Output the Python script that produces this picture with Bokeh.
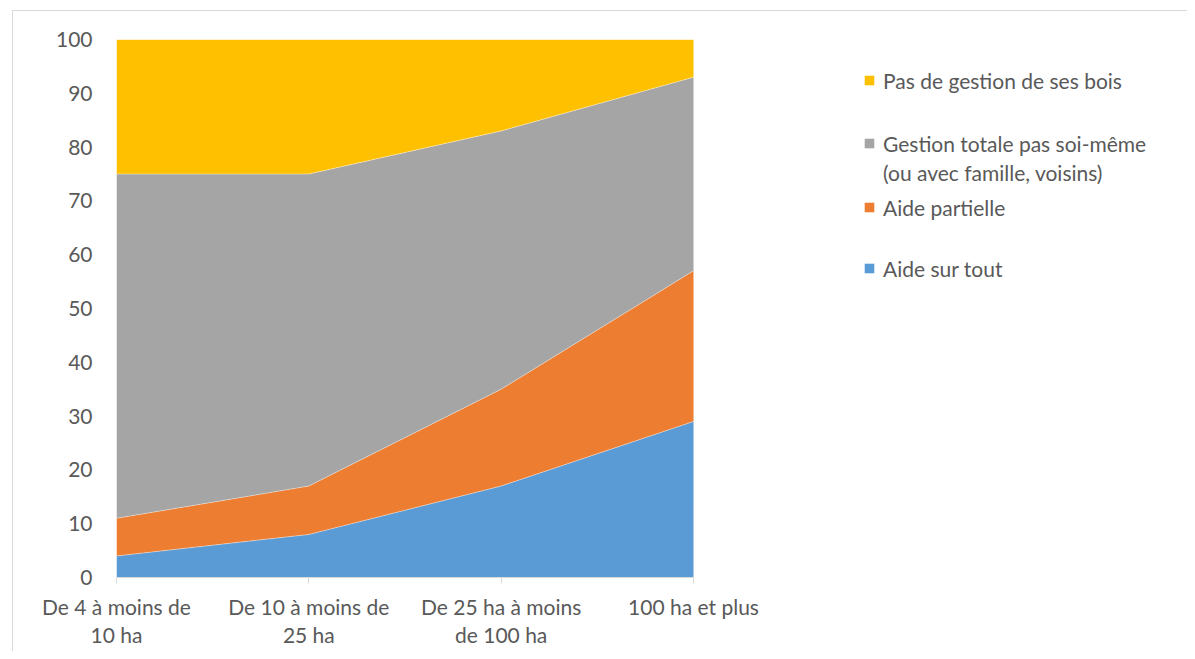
from bokeh.plotting import figure
from bokeh.models import ColumnDataSource, Legend, LegendItem, FixedTicker, Range1d
from bokeh.embed import file_html
from bokeh.resources import INLINE

categories = ["De 4 à moins de\n10 ha", "De 10 à moins de\n25 ha", "De 25 ha à moins\nde 100 ha", "100 ha et plus"]
aide_sur_tout = [4, 8, 17, 29]
aide_partielle = [7, 9, 18, 28]
gestion_totale = [64, 58, 48, 36]
pas_de_gestion = [25, 25, 17, 7]

series_names = ["Aide sur tout", "Aide partielle", "Gestion totale pas soi-même", "Pas de gestion de ses bois"]
name_second_line = "(ou avec famille, voisins)"
series_keys = ["s1", "s2", "s3", "s4"]
colors = ["#5B9BD5", "#ED7D31", "#A5A5A5", "#FFC000"]
y_ticks = [0, 10, 20, 30, 40, 50, 60, 70, 80, 90, 100]

FONT = "Lato"
TXT = "#595959"

# layout (pixels)
PLOT_W = 577          # width of the data area that holds the categories
FRAME_W = 1061        # frame extends to the right to host the legend
FRAME_H = 538
n = len(categories)

source = ColumnDataSource(dict(
    x=list(range(n)),
    s1=aide_sur_tout, s2=aide_partielle, s3=gestion_totale, s4=pas_de_gestion,
))

p = figure(frame_width=FRAME_W, frame_height=FRAME_H, output_backend="svg", toolbar_location=None,
           x_range=Range1d(0, (n - 1) * FRAME_W / PLOT_W), y_range=Range1d(0, 100),
           min_border_left=103, min_border_top=28, min_border_bottom=74, min_border_right=10)
p.margin = (10, 0, 0, 12)
p.styles = {"border-top": "1px solid #D9D9D9", "border-left": "1px solid #D9D9D9"}
p.outline_line_color = None
p.xgrid.visible = False
p.ygrid.visible = False
p.background_fill_color = "white"
p.border_fill_color = "white"

renderers = p.varea_stack(series_keys, x="x", color=colors, source=source)
p.vline_stack(series_keys, x="x", source=source, line_color="white", line_alpha=0.5, line_width=0.8)
blank = p.varea(x=[], y1=[], y2=[], fill_alpha=0)

LH = 26


def make_legend(items, spacing, vy):
    lg = Legend(items=items, location=(747, vy))
    lg.background_fill_alpha = 0
    lg.border_line_color = None
    lg.label_text_font = FONT
    lg.label_text_font_size = "21px"
    lg.label_text_color = TXT
    lg.glyph_width = 12
    lg.glyph_height = 12
    lg.label_standoff = 8
    lg.label_height = LH
    lg.spacing = spacing
    lg.padding = 0
    lg.margin = 0
    p.add_layout(lg, "center")
    return lg


make_legend([LegendItem(label=series_names[3], renderers=[renderers[3]])], 0, 577 - (80 + LH / 2))
make_legend([LegendItem(label=series_names[2], renderers=[renderers[2]]),
             LegendItem(label=name_second_line, renderers=[blank])], 29 - LH, 577 - (172 + LH / 2))
make_legend([LegendItem(label=series_names[1], renderers=[renderers[1]]),
             LegendItem(label=series_names[0], renderers=[renderers[0]])], 61 - LH, 577 - (268 + LH / 2))

p.xaxis.bounds = (0, n - 1)
p.xaxis.ticker = FixedTicker(ticks=list(range(n)))
p.xaxis.major_label_overrides = {i: c for i, c in enumerate(categories)}
p.xaxis.axis_line_color = "#D9D9D9"
p.xaxis.major_tick_line_color = "#D9D9D9"
p.xaxis.major_tick_out = 6
p.xaxis.major_tick_in = 0
p.xaxis.minor_tick_line_color = None
p.xaxis.major_label_standoff = 10
p.xaxis.major_label_text_font = FONT
p.xaxis.major_label_text_font_size = "21px"
p.xaxis.major_label_text_color = TXT
p.xaxis.major_label_text_line_height = 1.15

p.yaxis.ticker = FixedTicker(ticks=y_ticks)
p.yaxis.axis_line_color = None
p.yaxis.major_tick_line_color = None
p.yaxis.minor_tick_line_color = None
p.yaxis.major_label_standoff = 18
p.yaxis.major_label_text_font = FONT
p.yaxis.major_label_text_font_size = "21px"
p.yaxis.major_label_text_color = TXT

open("out.html", "w").write(file_html(p, INLINE))
